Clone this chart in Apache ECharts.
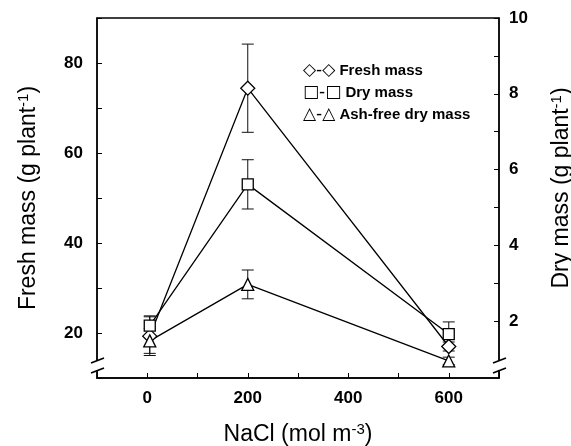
<!DOCTYPE html>
<html>
<head>
<meta charset="utf-8">
<script src="https://cdn.jsdelivr.net/npm/echarts@6/dist/echarts.min.js"></script>
<style>html,body{margin:0;padding:0;background:#fff}#main{width:571px;height:446px}</style>
</head>
<body>
<div id="main"></div>
<script>
// NaCl concentration of the three treatments
var nacl = [5, 200, 600];
// fresh mass (left axis) and dry masses (right axis), with error
var freshMass = [19.3, 74.4, 17.0];
var freshErr  = [4.3, 9.8, 1.0];
var dryMass   = [1.88, 5.61, 1.66];
var dryErr    = [0.26, 0.65, 0.32];
var ashFree   = [1.48, 2.97, 0.95];
var ashErr    = [0.33, 0.38, 0.1];
// tick labels
var xLabels = [0, 200, 400, 600];
var freshLabels = [20, 40, 60, 80];
var dryLabels = [2, 4, 6, 8, 10];
var dryTicks = [2, 3, 4, 5, 6, 7, 8, 9, 10];

var names = ['Fresh mass', 'Dry mass', 'Ash-free dry mass'];
var legendSym = {'Fresh mass': '\u25C7-\u25C7', 'Dry mass': '\u25A1-\u25A1', 'Ash-free dry mass': '\u25B3-\u25B3'};

var font = "'Liberation Sans', Arial, sans-serif";

function pairs(xs, ys, es) {
  var out = [];
  for (var i = 0; i < xs.length; i++) {
    out.push(es ? [xs[i], ys[i], es[i]] : [xs[i], ys[i]]);
  }
  return out;
}

function errorBar(params, api) {
  var x = api.value(0), y = api.value(1), e = api.value(2);
  var hi = api.coord([x, y + e]), lo = api.coord([x, y - e]);
  var w = 6;
  var st = {stroke: '#111', lineWidth: 1};
  return {type: 'group', children: [
    {type: 'line', shape: {x1: hi[0], y1: hi[1], x2: lo[0], y2: lo[1]}, style: st},
    {type: 'line', shape: {x1: hi[0] - w, y1: hi[1], x2: hi[0] + w, y2: hi[1]}, style: st},
    {type: 'line', shape: {x1: lo[0] - w, y1: lo[1], x2: lo[0] + w, y2: lo[1]}, style: st}
  ]};
}

function lineSeries(name, data, yIdx, symbol, size) {
  return {
    name: name, type: 'line', yAxisIndex: yIdx, data: data, z: 3,
    symbol: symbol, symbolSize: size, showSymbol: true,
    lineStyle: {color: '#000', width: 1.3},
    itemStyle: {color: '#fff', borderColor: '#000', borderWidth: 1.3},
    animation: false
  };
}

function errSeries(data, yIdx) {
  return {type: 'custom', yAxisIndex: yIdx, data: data, z: 1, renderItem: errorBar,
    encode: {x: 0, y: 1}, silent: true, animation: false};
}

var nameRich = {
  a: {fontSize: 23, fontFamily: font, color: '#000'},
  s: {fontSize: 15, fontFamily: font, color: '#000', verticalAlign: 'top', padding: [0, 0, 10, 0]}
};

var option = {
  backgroundColor: '#fff',
  animation: false,
  grid: {left: 97, right: 72, top: 18, bottom: 68, outerBoundsMode: 'none', containLabel: false,
    show: true, borderColor: '#000', borderWidth: 1.3},
  legend: {
    data: names, orient: 'vertical', left: 292, top: 57, itemWidth: 0, itemHeight: 0, itemGap: 5,
    selectedMode: false,
    formatter: function (n) { return '{s|' + legendSym[n] + '} ' + n; },
    textStyle: {fontSize: 15, fontWeight: 'bold', fontFamily: font, color: '#000',
      rich: {s: {fontSize: 17, fontWeight: 'normal', fontFamily: 'DejaVu Sans', color: '#000'}}}
  },
  xAxis: {
    type: 'value', min: -100, max: 700, interval: 100,
    axisLine: {onZero: false, lineStyle: {color: '#000', width: 1.5}},
    axisTick: {inside: true, length: 5, lineStyle: {color: '#000'}},
    splitLine: {show: false},
    axisLabel: {margin: 12, fontSize: 17, fontWeight: 'bold', fontFamily: font, color: '#000',
      formatter: function (v) { return xLabels.indexOf(v) >= 0 ? String(v) : ''; }},
    name: '{a|NaCl (mol m}{s|-3}{a|)}', nameLocation: 'middle', nameGap: 44,
    nameTextStyle: {rich: nameRich}
  },
  yAxis: [{
    type: 'value', min: 10, max: 90, interval: 10, position: 'left',
    axisLine: {show: true, onZero: false, lineStyle: {color: '#000', width: 1.5}},
    axisTick: {show: true, inside: true, length: 5, lineStyle: {color: '#000'}},
    splitLine: {show: false},
    axisLabel: {margin: 14, fontSize: 17, fontWeight: 'bold', fontFamily: font, color: '#000',
      formatter: function (v) { return freshLabels.indexOf(v) >= 0 ? String(v) : ''; }},
    name: '{a|Fresh mass (g plant}{s|-1}{a|)}', nameLocation: 'middle', nameGap: 56,
    nameTextStyle: {rich: nameRich}
  }, {
    type: 'value', min: 0.5, max: 10, position: 'right',
    axisLine: {show: true, onZero: false, lineStyle: {color: '#000', width: 1.5}},
    axisTick: {show: true, inside: true, length: 5, customValues: dryTicks, lineStyle: {color: '#000'}},
    splitLine: {show: false},
    axisLabel: {margin: 10, fontSize: 17, fontWeight: 'bold', fontFamily: font, color: '#000',
      customValues: dryLabels},
    name: '{a|Dry mass (g plant}{s|-1}{a|)}', nameLocation: 'middle', nameGap: 50,
    nameTextStyle: {rich: nameRich, padding: [0, 0, 0, 20]}
  }],
  series: [
    errSeries(pairs(nacl, freshMass, freshErr), 0),
    errSeries(pairs(nacl, dryMass, dryErr), 1),
    errSeries(pairs(nacl, ashFree, ashErr), 1),
    lineSeries('Fresh mass', pairs(nacl, freshMass), 0, 'diamond', 14),
    lineSeries('Dry mass', pairs(nacl, dryMass), 1, 'rect', 11),
    lineSeries('Ash-free dry mass', pairs(nacl, ashFree), 1, 'triangle', 12)
  ]
};

var chart = echarts.init(document.getElementById('main'), null, {renderer: 'canvas'});
chart.setOption(option);

// axis break marks near the bottom of both value axes
var bl = chart.convertToPixel({xAxisIndex: 0, yAxisIndex: 0}, [-100, 10]);
var br = chart.convertToPixel({xAxisIndex: 0, yAxisIndex: 0}, [700, 10]);
function breakMark(p) {
  var x = p[0], y = p[1];
  var st = {stroke: '#000', lineWidth: 1.8};
  return [
    {type: 'rect', shape: {x: x - 3, y: y - 17, width: 6, height: 9}, style: {fill: '#fff'}, z: 100},
    {type: 'line', shape: {x1: x - 6, y1: y - 15, x2: x + 7, y2: y - 20}, style: st, z: 101},
    {type: 'line', shape: {x1: x - 6, y1: y - 5, x2: x + 7, y2: y - 10}, style: st, z: 101}
  ];
}
chart.setOption({graphic: breakMark(bl).concat(breakMark(br))});
</script>
</body>
</html>
